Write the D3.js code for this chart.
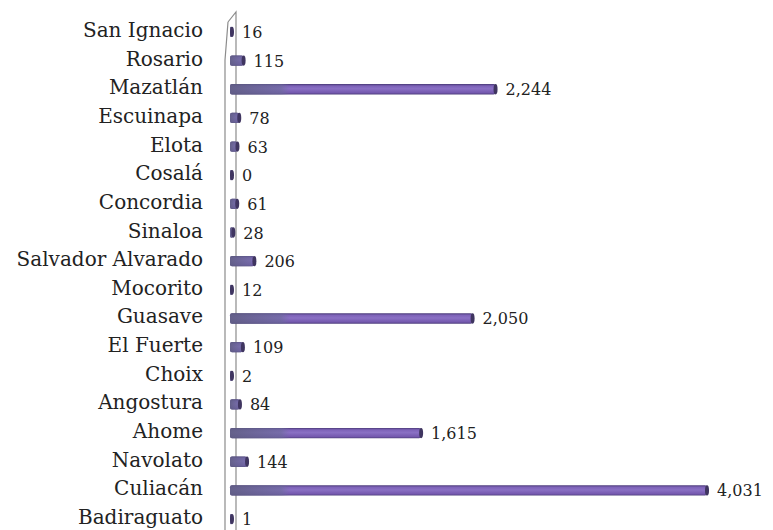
<!DOCTYPE html>
<html>
<head>
<meta charset="utf-8">
<script src="https://cdn.jsdelivr.net/npm/d3@7"></script>
<style>
  body { margin: 0; background: #fff; }
  svg { display: block; }
</style>
</head>
<body>
<div id="chart"></div>
<script>
// municipios, top to bottom as drawn
const municipios = ["San Ignacio", "Rosario", "Mazatlán", "Escuinapa", "Elota", "Cosalá",
  "Concordia", "Sinaloa", "Salvador Alvarado", "Mocorito", "Guasave", "El Fuerte",
  "Choix", "Angostura", "Ahome", "Navolato", "Culiacán", "Badiraguato"];
const valores = [16, 115, 2244, 78, 63, 0, 61, 28, 206, 12, 2050, 109, 2, 84, 1615, 144, 4031, 1];

const width = 773, height = 530;
const x0 = 230;

const svg = d3.select("#chart").append("svg")
  .attr("width", width)
  .attr("height", height);

const x = d3.scaleLinear().domain([0, 4031]).range([x0, 707]);
const y = d3.scaleBand().domain(municipios).range([17.6, 533.4])
  .paddingInner(0.64).paddingOuter(0.32);

const defs = svg.append("defs");
const grad = defs.append("linearGradient").attr("id", "barGrad")
  .attr("x1", 0).attr("y1", 0).attr("x2", 0).attr("y2", 1);
grad.append("stop").attr("offset", "0%").attr("stop-color", "#4a3a78");
grad.append("stop").attr("offset", "18%").attr("stop-color", "#7d62b8");
grad.append("stop").attr("offset", "45%").attr("stop-color", "#8a70c4");
grad.append("stop").attr("offset", "85%").attr("stop-color", "#7458ae");
grad.append("stop").attr("offset", "100%").attr("stop-color", "#4e3e7c");

const shade = defs.append("linearGradient").attr("id", "shadeGrad")
  .attr("x1", 0).attr("y1", 0).attr("x2", 1).attr("y2", 0);
shade.append("stop").attr("offset", "0%").attr("stop-color", "#5e5e80").attr("stop-opacity", 0.85);
shade.append("stop").attr("offset", "85%").attr("stop-color", "#6a6a98").attr("stop-opacity", 0.6);
shade.append("stop").attr("offset", "100%").attr("stop-color", "#7070a0").attr("stop-opacity", 0);

// 3D axis wall
svg.append("path")
  .attr("d", "M228,22 L236,12 L236,530 M228,22 L225,60 L225,530")
  .attr("fill", "none")
  .attr("stroke", "#8c8c8c")
  .attr("stroke-width", 1.2);

const bh = y.bandwidth();
const rows = svg.selectAll("g.row")
  .data(municipios.map((m, i) => ({ m, v: valores[i] })))
  .enter().append("g").attr("class", "row");

rows.append("rect")
  .attr("x", x0)
  .attr("y", d => y(d.m))
  .attr("width", d => Math.max(x(d.v) - x0, 2))
  .attr("height", bh)
  .attr("rx", 2)
  .attr("fill", "url(#barGrad)");

// greyish left part of each bar
rows.append("rect")
  .attr("x", x0)
  .attr("y", d => y(d.m))
  .attr("width", d => Math.min(Math.max(x(d.v) - x0, 2), 60))
  .attr("height", bh)
  .attr("rx", 2)
  .attr("fill", "url(#shadeGrad)");

// end cap
rows.append("ellipse")
  .attr("cx", d => Math.max(x(d.v), x0 + 2))
  .attr("cy", d => y(d.m) + bh / 2)
  .attr("rx", 2)
  .attr("ry", bh / 2)
  .attr("fill", "#3f3560");

rows.append("text")
  .attr("x", d => Math.max(x(d.v), x0 + 2) + 10)
  .attr("y", d => y(d.m) + bh / 2 + 6)
  .attr("font-family", "DejaVu Serif")
  .attr("font-size", 16)
  .attr("fill", "#222")
  .text(d => d3.format(",")(d.v));

svg.append("g").selectAll("text")
  .data(municipios)
  .enter().append("text")
  .attr("x", 203)
  .attr("y", d => y(d) + bh / 2 + 5)
  .attr("text-anchor", "end")
  .attr("font-family", "DejaVu Serif")
  .attr("font-size", 20)
  .attr("fill", "#222")
  .text(d => d);
</script>
</body>
</html>
